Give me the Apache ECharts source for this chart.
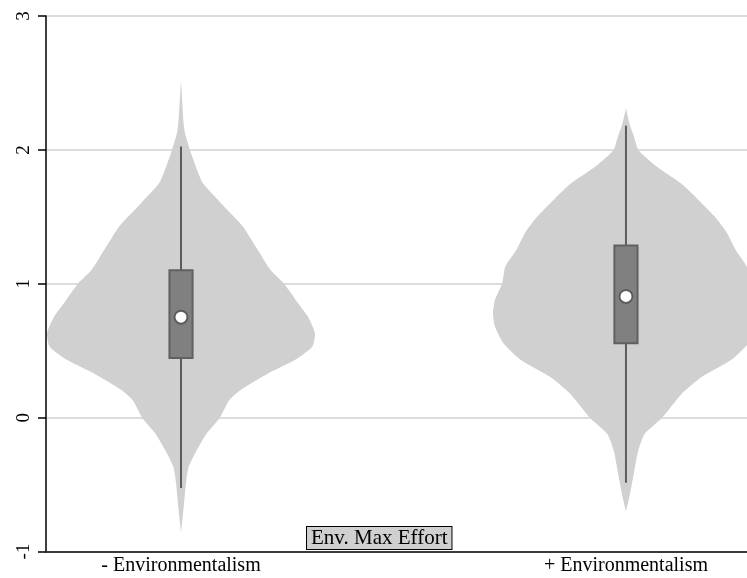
<!DOCTYPE html>
<html>
<head>
<meta charset="utf-8">
<script src="https://cdn.jsdelivr.net/npm/echarts@6/dist/echarts.min.js"></script>
<style>
  html, body { margin: 0; padding: 0; background: #fff; }
  #chart { width: 747px; height: 578px; }
</style>
</head>
<body>
<div id="chart"></div>
<script>
// Groups shown along the horizontal axis
const categories = ['- Environmentalism', '+ Environmentalism'];
const seriesName = 'Env. Max Effort';

// Kernel density outlines: effort values and relative density (peak = 1)
const lowEnvY = [-0.86, -0.67, -0.49, -0.37, -0.24, -0.12, 0, 0.13, 0.21, 0.33, 0.43, 0.53, 0.63, 0.75, 0.86, 1.0, 1.10, 1.25, 1.43, 1.60, 1.75, 1.85, 2.0, 2.15, 2.52];
const lowEnvD = [0, 0.02, 0.037, 0.056, 0.12, 0.19, 0.29, 0.36, 0.45, 0.65, 0.85, 0.98, 1.0, 0.95, 0.87, 0.77, 0.67, 0.575, 0.46, 0.30, 0.164, 0.12, 0.067, 0.025, 0];
const highEnvY = [-0.70, -0.61, -0.49, -0.37, -0.24, -0.12, 0, 0.18, 0.30, 0.43, 0.56, 0.68, 0.78, 0.88, 1.0, 1.13, 1.25, 1.38, 1.50, 1.63, 1.75, 1.88, 2.0, 2.10, 2.19, 2.31];
const highEnvD = [0, 0.022, 0.045, 0.067, 0.093, 0.14, 0.27, 0.418, 0.56, 0.784, 0.918, 0.978, 0.993, 0.978, 0.925, 0.90, 0.82, 0.754, 0.664, 0.537, 0.41, 0.224, 0.093, 0.06, 0.028, 0];

// Box summaries per group
const whiskerLow  = [-0.525, -0.486];
const quartile1   = [0.446, 0.556];
const medians     = [0.75, 0.905];
const quartile3   = [1.10, 1.285];
const whiskerHigh = [2.025, 2.18];

// Axis ticks
const yTicks = [-1, 0, 1, 2, 3];

const densities = [
  { y: lowEnvY, d: lowEnvD },
  { y: highEnvY, d: highEnvD }
];

const FONT = '"Liberation Serif", "Times New Roman", serif';
const VIOLIN_HALF = 0.301;   // half-width of the widest point, in x units
const BOX_HALF = 0.026;      // half-width of the box, in x units

const chart = echarts.init(document.getElementById('chart'), null, { renderer: 'canvas' });

function renderViolin(params, api) {
  const idx = api.value(0);
  const xc = idx + 1;
  const dens = densities[idx];
  const right = [], left = [];
  for (let i = 0; i < dens.y.length; i++) {
    right.push(api.coord([xc + dens.d[i] * VIOLIN_HALF, dens.y[i]]));
  }
  for (let i = dens.y.length - 1; i >= 0; i--) {
    left.push(api.coord([xc - dens.d[i] * VIOLIN_HALF, dens.y[i]]));
  }
  const pts = right.concat(left);
  const q1 = api.coord([xc - BOX_HALF, quartile1[idx]]);
  const q3 = api.coord([xc + BOX_HALF, quartile3[idx]]);
  const wl = api.coord([xc, whiskerLow[idx]]);
  const wh = api.coord([xc, whiskerHigh[idx]]);
  const md = api.coord([xc, medians[idx]]);
  return {
    type: 'group',
    children: [
      {
        type: 'polygon',
        shape: { points: pts, smooth: 0.2 },
        style: { fill: '#d0d0d0', stroke: null }
      },
      {
        type: 'line',
        shape: { x1: wl[0], y1: wl[1], x2: wh[0], y2: wh[1] },
        style: { stroke: '#5c5c5c', lineWidth: 2 }
      },
      {
        type: 'rect',
        shape: { x: q1[0], y: q3[1], width: q3[0] - q1[0], height: q1[1] - q3[1] },
        style: { fill: '#808080', stroke: '#606060', lineWidth: 2 }
      },
      {
        type: 'circle',
        shape: { cx: md[0], cy: md[1], r: 6.5 },
        style: { fill: '#ffffff', stroke: '#5c5c5c', lineWidth: 2 }
      }
    ]
  };
}

chart.setOption({
  animation: false,
  backgroundColor: '#ffffff',
  grid: { left: 46, right: 0, top: 16, bottom: 26.5, containLabel: false },
  legend: {
    data: [seriesName],
    left: 302,
    top: 526,
    padding: 0,
    itemWidth: 0,
    itemHeight: 0,
    selectedMode: false,
    textStyle: {
      fontFamily: FONT,
      fontSize: 21,
      color: '#000',
      backgroundColor: '#d0d0d0',
      borderColor: '#000',
      borderWidth: 1,
      padding: [1, 4, 0, 4]
    }
  },
  xAxis: {
    type: 'value',
    min: 0.6966,
    max: 2.272,
    splitLine: { show: false },
    axisLine: { show: true, onZero: false, lineStyle: { color: '#3a3a3a', width: 2 } },
    axisTick: { show: false },
    axisLabel: {
      customValues: [1, 2],
      formatter: v => categories[Math.round(v) - 1] || '',
      fontFamily: FONT,
      fontSize: 20,
      color: '#000',
      margin: 4
    }
  },
  yAxis: {
    type: 'value',
    min: yTicks[0],
    max: yTicks[yTicks.length - 1],
    interval: 1,
    axisLine: { show: true, lineStyle: { color: '#000', width: 1.5 } },
    axisTick: { show: true, length: 8, lineStyle: { color: '#000', width: 1.5 } },
    splitLine: { show: true, lineStyle: { color: '#dcdcdc', width: 2 } },
    axisLabel: {
      rotate: 90,
      fontFamily: FONT,
      fontSize: 19,
      color: '#000',
      margin: 12,
      formatter: v => String(v)
    }
  },
  series: [{
    name: seriesName,
    type: 'custom',
    clip: true,
    itemStyle: { color: '#d0d0d0' },
    encode: { x: 0, y: 1 },
    data: categories.map((c, i) => [i, medians[i]]),
    renderItem: renderViolin
  }]
});
</script>
</body>
</html>
